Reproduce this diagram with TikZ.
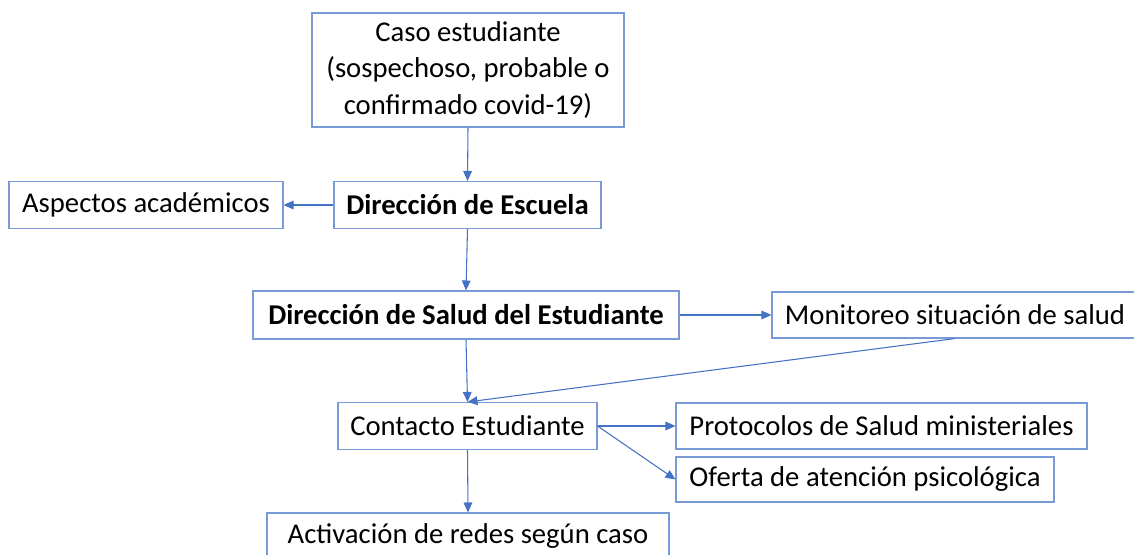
\documentclass[tikz,border=0pt]{standalone}
\usepackage{fontspec}
\setmainfont{Carlito}
\usetikzlibrary{arrows.meta}
\definecolor{boxc}{RGB}{120,155,215}
\definecolor{arrc}{RGB}{68,114,196}
\tikzset{
  box/.style={draw=boxc, line width=0.8pt, inner sep=0pt, align=center, font=\fontsize{21.5}{27.4}\selectfont},
  arr/.style={draw=arrc, line width=0.8pt, -{Triangle[length=7.5pt,width=6.5pt]}},
}
\begin{document}
\begin{tikzpicture}[x=0.75pt,y=-0.75pt]
\clip (0,0) rectangle (1134,554);
\node[box, minimum width=312*0.75pt, minimum height=114*0.75pt] (caso) at (468,70) {Caso estudiante\\(sospechoso, probable o\\confirmado covid-19)};
\node[box, minimum width=267*0.75pt, minimum height=47*0.75pt] (escuela) at (467.5,205) {\bfseries Dirección de Escuela};
\node[box, minimum width=274*0.75pt, minimum height=47*0.75pt] (aspectos) at (146,205) {Aspectos académicos};
\node[box, minimum width=426*0.75pt, minimum height=48*0.75pt] (salud) at (466,315) {\bfseries Dirección de Salud del Estudiante};
\node[box, minimum width=366*0.75pt, minimum height=46*0.75pt] (monitoreo) at (955,315) {Monitoreo situación de salud};
\node[box, minimum width=259*0.75pt, minimum height=47*0.75pt] (contacto) at (467.5,426) {Contacto Estudiante};
\node[box, minimum width=411*0.75pt, minimum height=46*0.75pt] (protocolos) at (881.5,426) {Protocolos de Salud ministeriales};
\node[box, minimum width=378*0.75pt, minimum height=45*0.75pt] (oferta) at (865,479.5) {Oferta de atención psicológica};
\node[box, minimum width=402*0.75pt, minimum height=46*0.75pt] (activacion) at (468,536) {Activación de redes según caso};
\draw[arr] (caso.south) -- (escuela.north);
\draw[arr] (escuela.west) -- (aspectos.east);
\draw[arr] (escuela.south) -- (salud.north);
\draw[arr] (salud.east) -- (monitoreo.west);
\draw[arr] (salud.south) -- (contacto.north);
\draw[arr] (monitoreo.south) -- (contacto.north);
\draw[arr] (contacto.east) -- (protocolos.west);
\draw[arr] (contacto.east) -- (oferta.west);
\draw[arr] (contacto.south) -- (activacion.north);
\end{tikzpicture}
\end{document}
